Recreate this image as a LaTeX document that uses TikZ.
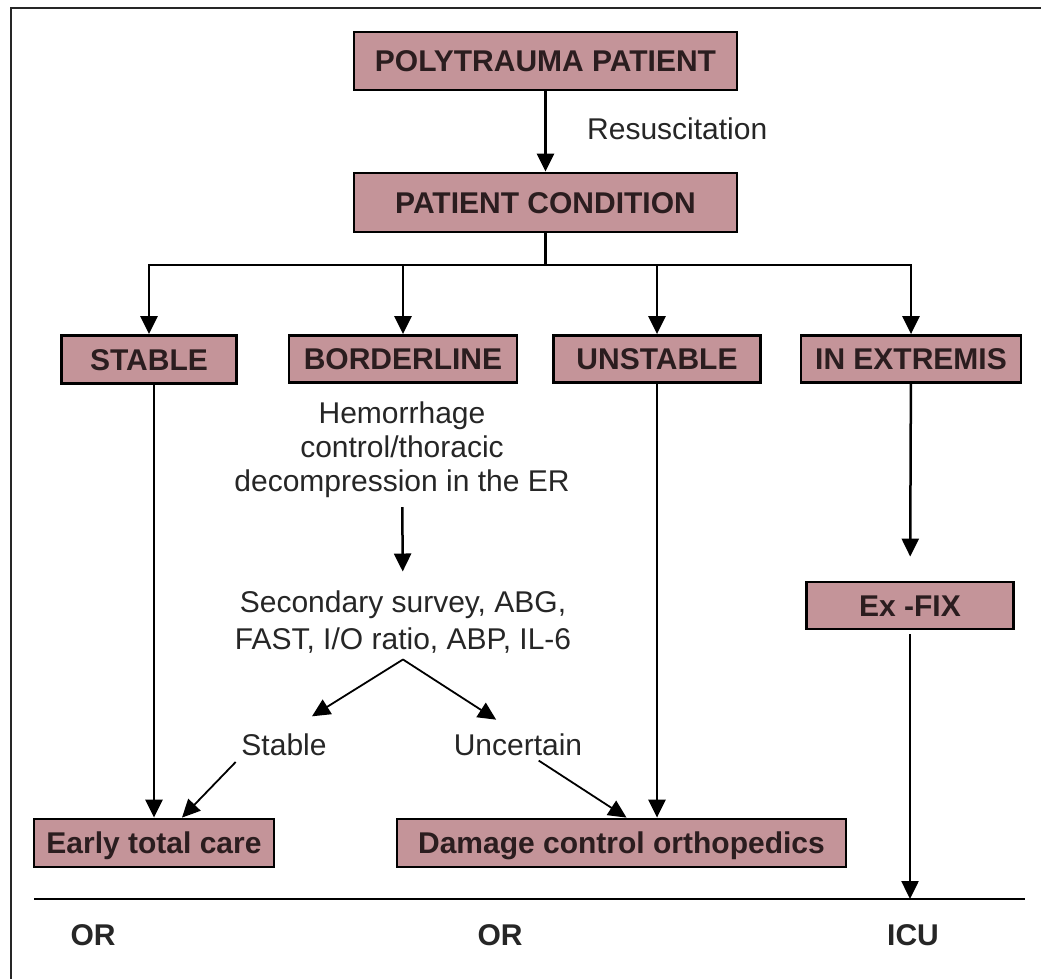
\documentclass[tikz,border=0pt]{standalone}
\usepackage{fontspec}
\setmainfont{Liberation Sans}
\usetikzlibrary{arrows.meta}
\definecolor{boxpink}{RGB}{196,148,153}
\definecolor{boxink}{RGB}{43,29,31}
\tikzset{state/.style={rectangle,draw=black,line width=2.8pt,fill=boxpink,text=boxink,
inner sep=0pt,text height=21.5pt,text depth=0pt,font=\bfseries\fontsize{30}{33}\selectfont},
note/.style={inner sep=0pt,align=center,text=black!85,font=\fontsize{30}{34}\selectfont},
site/.style={inner sep=0pt,text=black!85,font=\bfseries\fontsize{30}{33}\selectfont},
flow/.style={line width=2.5pt},
thin flow/.style={line width=1.8pt},
>={Triangle[length=18pt,width=17pt]}}

\begin{document}
\begin{tikzpicture}[x=1pt,y=-1pt]
  \useasboundingbox (0,0) rectangle (1041,979);
  \draw [line width=2pt,black!85] (11,979) -- (11,8) -- (1041,8);
  % boxes
  \node (poly) [state,minimum width=383pt,minimum height=58pt] at (545.5,61) {POLYTRAUMA PATIENT};
  \node (pcond) [state,minimum width=383pt,minimum height=59pt] at (545.5,202.5) {PATIENT CONDITION};
  \node (stable) [state,minimum width=175pt,minimum height=48pt] at (149,359.5) {STABLE};
  \node (border) [state,minimum width=228pt,minimum height=47pt] at (403,359) {BORDERLINE};
  \node (unstab) [state,minimum width=207pt,minimum height=47pt] at (657,359) {UNSTABLE};
  \node (extrem) [state,minimum width=220pt,minimum height=47pt] at (911,359) {IN EXTREMIS};
  \node (exfix) [state,minimum width=207pt,minimum height=47pt] at (910,605.5) {Ex -FIX};
  \node (etc) [state,minimum width=240pt,minimum height=48pt] at (154,843) {Early total care};
  \node (dco) [state,minimum width=449pt,minimum height=48pt] at (621.5,843) {Damage control orthopedics};
  % texts
  \node (resus) [note,anchor=west] at (587,128.5) {Resuscitation};
  \node (hem) [note] at (402,450) {Hemorrhage\\control/thoracic\\decompression in the ER};
  \node (secs) [note,font=\fontsize{30}{37}\selectfont] at (403,622) {Secondary survey, ABG,\\FAST, I/O ratio, ABP, IL-6};
  \node (stab) [note] at (284,745) {Stable};
  \node (uncert) [note] at (518,745) {Uncertain};
  \node (orA) [site] at (93,935) {OR};
  \node (orB) [site] at (500,935) {OR};
  \node (icu) [site] at (913,935) {ICU};
  \coordinate (split) at (545.5,265);
  \coordinate (lnL) at (34,899);
  \coordinate (lnR) at (1025,899);
  % connectors
  \draw [flow,->] (poly) -- (pcond);
  \draw [flow] (pcond) -- (split);
  \draw [flow,->] (split) -| (stable);
  \draw [flow,->] (split) -| (border);
  \draw [flow,->] (split) -| (unstab);
  \draw [flow,->] (split) -| (extrem);
  \draw [flow,->] ([xshift=5pt]stable.south) -- (etc.north);
  \draw [flow,->,shorten <=9pt,shorten >=19pt] (hem) -- (secs);
  \draw [thin flow,->,shorten >=33pt] ([yshift=-6pt]secs.south) -- (stab.north);
  \draw [thin flow,->,shorten >=26pt] ([yshift=-6pt]secs.south) -- (uncert.north);
  \draw [thin flow,->,shorten <=8pt] (stab.south west) -- ([xshift=28pt]etc.north);
  \draw [thin flow,->,shorten <=8pt] ([xshift=14pt]uncert.south) -- ([xshift=5pt]dco.north);
  \draw [flow,->] (unstab) -- (unstab |- dco.north);
  \draw [flow,->,shorten >=24pt] (extrem) -- (exfix);
  \draw [flow] (lnL) -- (lnR);
  \draw [flow,->,shorten <=4pt] (exfix) -- (exfix |- lnR);
\end{tikzpicture}
\end{document}
